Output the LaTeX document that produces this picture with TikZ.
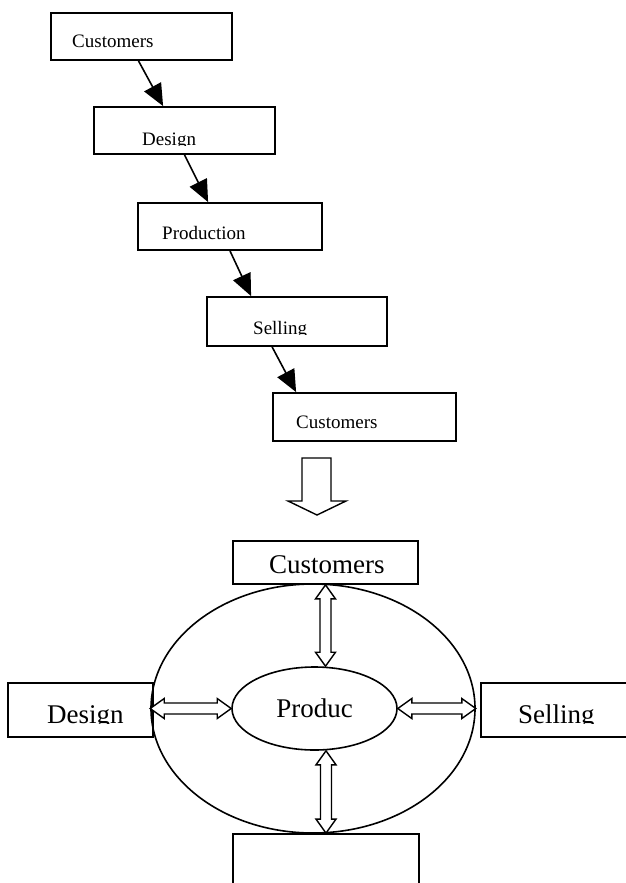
\documentclass[tikz,border=0pt]{standalone}
\usepackage{fontspec}
\setmainfont{Liberation Serif}
\usetikzlibrary{arrows.meta,shapes.geometric,calc}

\tikzset{
  box/.style={draw, line width=1.8pt, inner sep=0pt},
  lbl/.style={anchor=base west, inner sep=0pt},
  flow/.style={line width=1.6pt, -{Triangle[length=22pt,width=19pt]}},
  hollow/.style={draw, line width=1.4pt, fill=white, line join=miter},
}
\newcommand{\smallsz}{\fontsize{19}{22}\selectfont}
\newcommand{\bigsz}{\fontsize{27}{32}\selectfont}

% text cut off at its baseline, as in the frames
\newcommand{\cutlabel}[4]{%
  \begin{scope}
    \clip (#2) ++(-4,0) rectangle ++(200,-40);
    \node[lbl, font=#3] (#1) at (#2) {#4};
  \end{scope}}

% hollow double-headed arrow between two points
\newcommand{\dblarrow}[2]{%
  \coordinate (ha) at ($(#1)!14pt!(#2)$);
  \coordinate (hb) at ($(#2)!14pt!(#1)$);
  \draw[hollow] (#1) -- ($(ha)!10pt!90:(#2)$) -- ($(ha)!5.5pt!90:(#2)$)
    -- ($(hb)!5.5pt!-90:(#1)$) -- ($(hb)!10pt!-90:(#1)$) -- (#2)
    -- ($(hb)!10pt!90:(#1)$) -- ($(hb)!5.5pt!90:(#1)$)
    -- ($(ha)!5.5pt!-90:(#2)$) -- ($(ha)!10pt!-90:(#2)$) -- cycle;}

\begin{document}
\begin{tikzpicture}[x=1pt,y=-1pt]
  \useasboundingbox (0,0) rectangle (625,883);

  % chain of frames
  \node[box, minimum width=181, minimum height=47] (c1) at (141.5,36.5) {};
  \node[box, minimum width=181, minimum height=47] (c2) at (184.5,130.5) {};
  \node[box, minimum width=184, minimum height=47] (c3) at (230,226.5) {};
  \node[box, minimum width=180, minimum height=49] (c4) at (297,321.5) {};
  \node[box, minimum width=183, minimum height=48] (c5) at (364.5,417) {};
  \cutlabel{t1}{72,48}{\smallsz}{Customers}
  \cutlabel{t2}{142,145}{\smallsz}{Design}
  \cutlabel{t3}{162,239}{\smallsz}{Production}
  \cutlabel{t4}{253,334}{\smallsz}{Selling}
  \cutlabel{t5}{296,428}{\smallsz}{Customers}

  \draw[flow] ([xshift=-3pt]c1.south) -- ([xshift=70pt]c2.north west);
  \draw[flow] (c2.south) -- ([xshift=71pt]c3.north west);
  \draw[flow] (c3.south) -- ([xshift=45pt]c4.north west);
  \draw[flow] ([xshift=66pt]c4.south west) -- ([xshift=24pt]c5.north west);

  % big open arrow
  \draw[hollow] (302,458) -- (331,458) -- (331,501) -- (346,501)
    -- (317,515) -- (288,501) -- (302,501) -- cycle;

  % ring
  \node[ellipse, draw, line width=1.6pt, inner sep=0pt,
    minimum width=324, minimum height=249] (ring) at (313,708.5) {};
  \node[ellipse, draw, line width=1.6pt, inner sep=0pt, font=\bigsz,
    minimum width=165, minimum height=83] (prod) at (314.5,708.5) {Produc};

  \node[box, minimum width=185, minimum height=43] (top) at (325.5,562.5) {};
  \node[box, minimum width=145, minimum height=54] (design) at (80.5,710) {};
  \node[box, minimum width=147, minimum height=54] (sell) at (554.5,710) {};
  \node[box, minimum width=186, minimum height=66] (blank) at (326,867) {};
  \cutlabel{t6}{269,573}{\bigsz}{Customers}
  \cutlabel{t7}{47,723}{\bigsz}{Design}
  \cutlabel{t8}{518,723}{\bigsz}{Selling}

  \coordinate (topin) at (top.south |- prod.north);
  \coordinate (botin) at (blank.north |- prod.south);
  \dblarrow{top.south}{topin}
  \dblarrow{botin}{blank.north}
  \dblarrow{ring.west}{prod.west}
  \dblarrow{prod.east}{ring.east}
\end{tikzpicture}
\end{document}
